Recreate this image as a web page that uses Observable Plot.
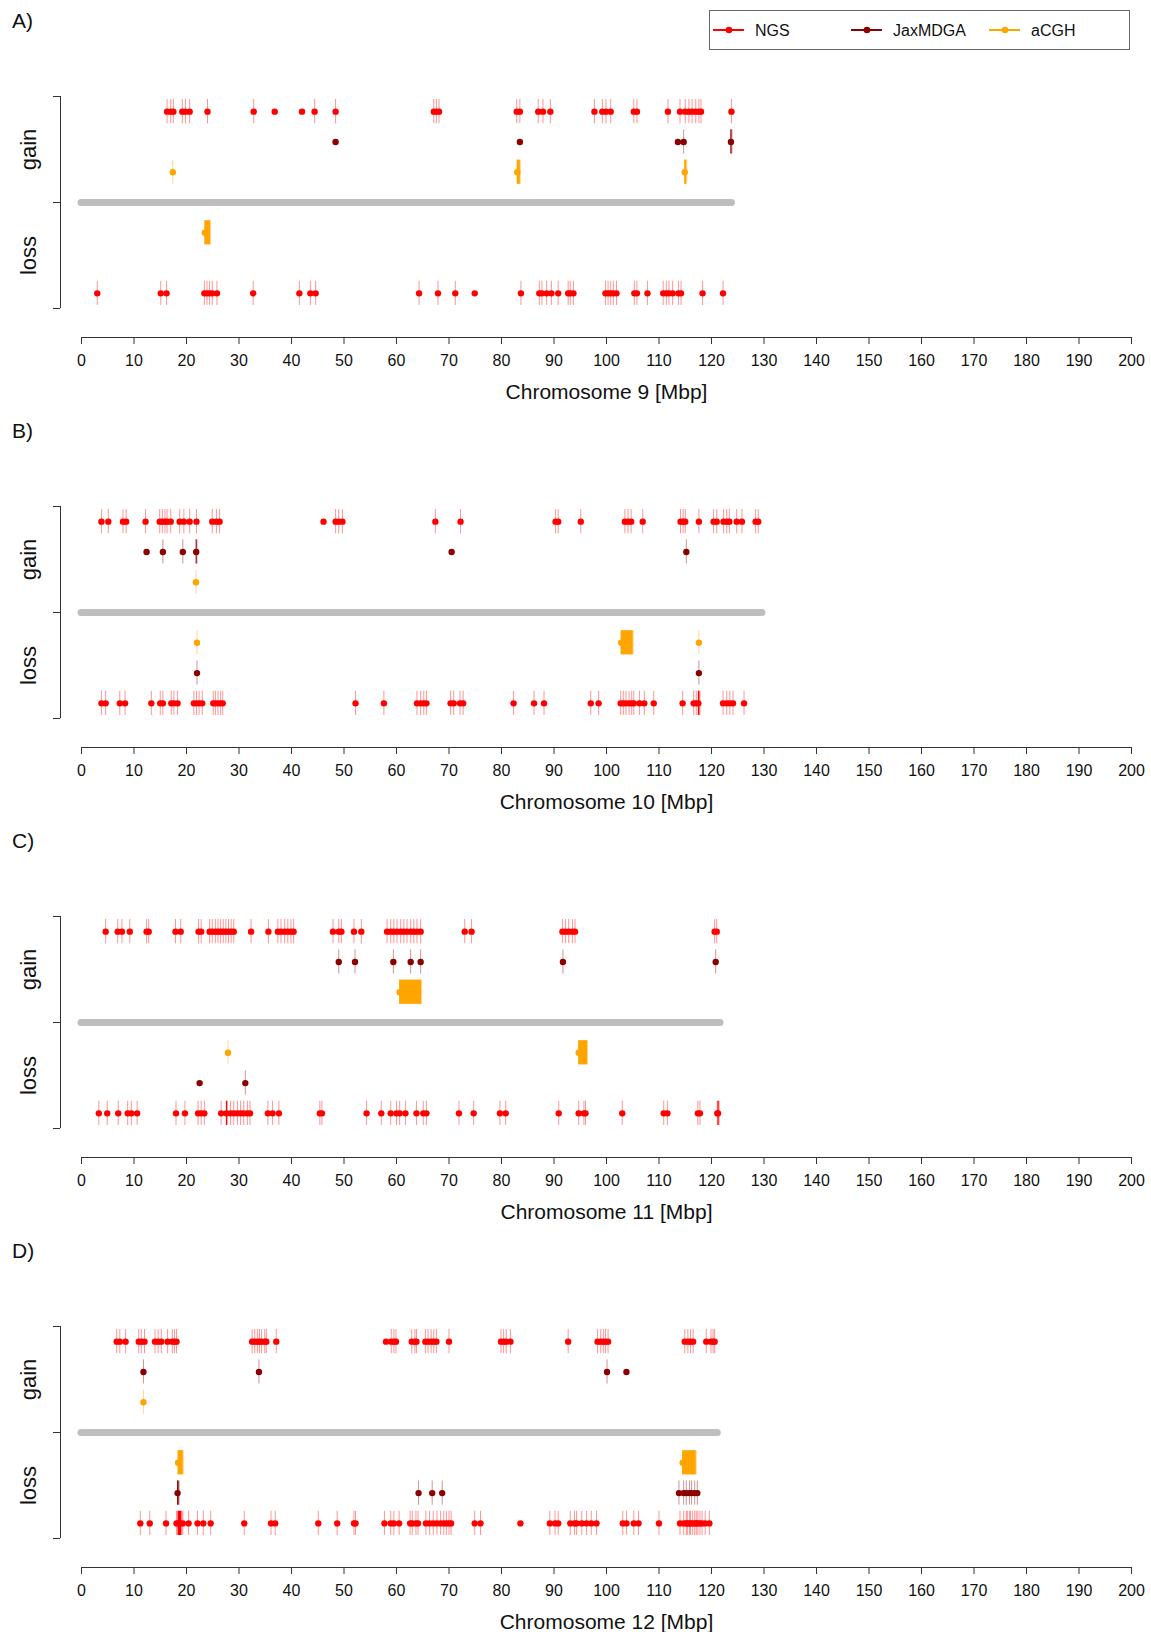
<!DOCTYPE html>
<html>
<head>
<meta charset="utf-8">
<script src="https://cdn.jsdelivr.net/npm/d3@7"></script>
<script src="https://cdn.jsdelivr.net/npm/@observablehq/plot@0.6"></script>
<style>
  body { margin: 0; background: #fff; font-family: "Liberation Sans", Arial, sans-serif; }
  #wrap { position: relative; width: 1151px; }
  .panel { position: relative; width: 1151px; }
  .panel svg { display: block; }
  .plabel { position: absolute; left: 12px; top: 10px; font-size: 21px; line-height: 21px; color: #111; }
  #legend { position: absolute; left: 709px; top: 10px; width: 421px; height: 40px; border: 1px solid #666; box-sizing: border-box; background: #fff; }
  .litem { position: absolute; top: 0; height: 38px; }
  .litem svg { position: absolute; top: 14px; left: 0; }
  .litem span { position: absolute; left: 42px; top: 11px; font-size: 16px; line-height: 18px; color: #111; white-space: nowrap; }
</style>
</head>
<body>
<div id="wrap"></div>
<script>
// ---------- general ----------
const seriesNames = ["NGS", "JaxMDGA", "aCGH"];
const seriesColors = ["#FF0000", "#8B0000", "#FFA500"];
const panelLabels = ["A)", "B)", "C)", "D)"];
const axisTitles = ["Chromosome 9 [Mbp]", "Chromosome 10 [Mbp]", "Chromosome 11 [Mbp]", "Chromosome 12 [Mbp]"];
const chromLengths = [123.9, 129.7, 121.7, 121.2];
const xTicks = [0, 10, 20, 30, 40, 50, 60, 70, 80, 90, 100, 110, 120, 130, 140, 150, 160, 170, 180, 190, 200];
const sideLabels = ["gain", "loss"];

// Entries: number = call start (dot + call line); [start, end] = call region; [start] = dot only
// ---------- Chromosome 9 ----------
const chr9NgsGain = [16.3, 17.0, 17.5, 19.2, 19.8, 20.6, 24.0, 32.8, [36.8], [42.0], 44.4, 48.4,
  67.1, 67.6, 68.1, 82.9, 83.5, 87.0, 87.9, 89.3, 97.7, 99.2, 99.9, 100.8, 105.2, 105.8,
  111.7, 114.0, 115.0, 115.7, 116.3, 117.0, 117.6, 118.0, 123.8];
const chr9JaxGain = [[48.4], [83.5], [113.6], 114.7, [123.7, 123.9]];
const chr9AcghGain = [17.4, [83.0, 83.6], [114.9, 115.3]];
const chr9AcghLoss = [[23.5, 24.6]];
const chr9JaxLoss = [];
const chr9NgsLoss = [3.0, 15.1, 16.2, 23.4, 23.9, 24.4, 24.9, 25.8, 32.7, 41.5, 43.6, 44.6,
  64.3, 67.9, 71.2, [74.9], 83.7, 87.2, 87.7, 88.6, 89.5, 90.8, 92.7, 93.1, 93.7,
  99.8, 100.3, 100.8, 101.3, 101.9, 105.3, 105.8, 107.8, 110.8, 111.4, 111.9, 112.6,
  113.7, 114.2, 118.3, 122.2];

// ---------- Chromosome 10 ----------
const chr10NgsGain = [3.8, 5.1, 7.9, 8.5, 12.2, 14.9, 15.4, 15.9, 16.3, 17.0, 18.7, 19.5, 20.6, 21.9,
  24.9, 25.7, 26.3, [46.1], 48.4, 49.0, 49.7, 67.4, 72.2, 90.3, 90.8, 95.1, 103.5, 104.1, 104.7,
  106.9, 114.1, 114.6, 115.0, 117.6, 120.4, 121.0, 122.3, 122.9, 123.4, 124.8, 125.8, 128.4, 128.9];
const chr10JaxGain = [[12.4], 15.5, 19.3, [21.85, 22.0], [70.5], 115.2];
const chr10AcghGain = [21.8];
const chr10AcghLoss = [22.0, [102.8, 105.1], 117.6];
const chr10JaxLoss = [22.0, 117.6];
const chr10NgsLoss = [3.8, 4.6, 7.3, 8.3, 13.3, 15.0, 15.5, 17.1, 17.6, 18.3, 21.4, 21.9, 22.4, 23.0,
  25.1, 25.5, 26.0, 26.5, 26.9, 52.2, 57.6, 63.9, 64.6, 65.2, 65.7, 70.3, 70.9, 72.1, 72.7,
  82.3, 86.2, 88.1, 97.0, 98.5, 102.7, 103.2, 103.7, 104.3, 104.8, 105.2, 106.3, 107.2, 109.0,
  114.5, 116.6, 117.1, [117.5, 117.8], 122.2, 122.9, 123.5, 124.1, 126.2];

// ---------- Chromosome 11 ----------
const chr11NgsGain = [4.6, 6.9, 7.7, 9.2, 12.4, 12.8, 17.9, 18.9, 22.3, 22.8, 24.4, 24.9, 25.5, 26.0,
  26.5, 27.0, 27.5, 28.0, 28.5, 29.0, 32.3, 35.6, 37.4, 38.0, 38.7, 39.3, 39.9, 40.4, 47.9, 49.0,
  49.5, 51.9, 53.3, 58.2, 58.9, 59.5, 60.1, 60.8, 61.4, 62.0, 62.7, 63.3, 63.9, 64.6, 73.0, 74.3,
  91.6, 92.2, 92.8, 93.5, 94.0, 120.6, 121.0];
const chr11JaxGain = [49.0, 52.1, 59.4, 62.7, 64.6, 91.7, 120.8];
const chr11AcghGain = [[60.6, 64.8]];
const chr11AcghLoss = [27.9, [94.7, 96.4]];
const chr11JaxLoss = [[22.5], 31.2];
const chr11NgsLoss = [3.3, 4.9, 7.0, 8.8, 9.5, 10.6, 18.0, 19.7, 22.2, 22.8, 23.4, 26.6, [27.6, 27.8],
  28.4, 29.0, 29.7, 30.3, 30.9, 31.6, 32.1, 35.5, 36.4, 37.6, 45.4, 45.8, 54.3, 57.1, 58.9, 60.0,
  60.6, 61.7, 63.8, 65.1, 65.7, 71.9, 74.7, 79.7, 80.8, 90.9, 94.7, 95.7, 96.0, 103.0, 110.9,
  111.6, 117.4, 117.8, 121.1, [121.25, 121.45]];

// ---------- Chromosome 12 ----------
const chr12NgsGain = [6.7, 7.3, 8.4, 10.9, 11.4, 12.0, 14.0, 14.6, 15.2, 16.4, 17.3, 17.7, 18.1,
  32.5, 33.0, 33.5, 33.9, 34.3, 34.9, 35.2, 37.1, [58.0], 59.0, 59.5, 59.9, 62.9, 63.5, 63.8,
  65.5, 66.0, 66.6, 67.1, 67.6, 70.0, 79.9, 80.4, 80.9, 81.7, 92.7, 98.3, 98.9, 99.4, 99.8, 100.3,
  114.9, 115.5, 116.0, 116.5, 119.0, 119.9, 120.3, 120.6];
const chr12JaxGain = [11.8, 33.8, 100.1, [103.8]];
const chr12AcghGain = [11.8];
const chr12AcghLoss = [[18.4, 19.4], [114.5, 117.1]];
const chr12JaxLoss = [[18.3, 18.6], 64.2, 66.8, 68.7, 113.8, 114.7, 115.2, 115.8, 116.2, 116.8, 117.3];
const chr12NgsLoss = [11.2, 13.0, 16.1, 18.1, [18.4, 19.1], 18.7, 19.3, 20.4, 22.1, 23.2, 24.6, 31.0,
  36.1, 36.9, 45.1, 48.7, 51.9, 52.2, 57.7, 58.9, 59.5, 60.5, 62.6, 63.0, 63.7, 64.1, 65.6, 66.3,
  67.0, 67.7, 68.4, 69.0, 69.5, 70.0, 70.4, 74.9, 76.0, [83.6], 89.2, 90.2, 90.8, 93.1, 93.9, 94.3,
  95.3, 96.2, 97.1, 98.1, 103.1, 103.8, 105.2, 106.1, 110.0, 114.0, 114.7, 115.2, 115.4, 115.8,
  116.0, 116.4, 116.8, 117.1, 117.4, 117.8, 118.2, 118.8, 119.6];

// ---------- build ----------
const rowOf = {
  gain: { NGS: 3, JaxMDGA: 2, aCGH: 1 },
  loss: { aCGH: -1, JaxMDGA: -2, NGS: -3 }
};
function events(list, series, side) {
  return list.map(v => {
    let start, end, line = true;
    if (Array.isArray(v)) {
      if (v.length === 1) { start = v[0]; end = v[0]; line = false; }
      else { start = v[0]; end = v[1]; }
    } else { start = v; end = v; }
    return { start, end, line, series, row: rowOf[side][series] };
  });
}
const panelData = [
  [chr9NgsGain, chr9JaxGain, chr9AcghGain, chr9AcghLoss, chr9JaxLoss, chr9NgsLoss],
  [chr10NgsGain, chr10JaxGain, chr10AcghGain, chr10AcghLoss, chr10JaxLoss, chr10NgsLoss],
  [chr11NgsGain, chr11JaxGain, chr11AcghGain, chr11AcghLoss, chr11JaxLoss, chr11NgsLoss],
  [chr12NgsGain, chr12JaxGain, chr12AcghGain, chr12AcghLoss, chr12JaxLoss, chr12NgsLoss]
].map(([ng, jg, ag, al, jl, nl]) => [
  ...events(ng, "NGS", "gain"), ...events(jg, "JaxMDGA", "gain"), ...events(ag, "aCGH", "gain"),
  ...events(al, "aCGH", "loss"), ...events(jl, "JaxMDGA", "loss"), ...events(nl, "NGS", "loss")
]);

const heights = [410, 410, 410, 402];
const wrap = document.getElementById("wrap");
const font = "'Liberation Sans', Arial, Helvetica, sans-serif";
const axisColor = "#333";
const half = 0.4;
const lineOpacity = 0.42;

panelData.forEach((data, i) => {
  const H = heights[i];
  const chart = Plot.plot({
    width: 1151,
    height: H,
    marginLeft: 81,
    marginRight: 20,
    marginTop: 96,
    marginBottom: H - 337,
    x: { domain: [0, 200] },
    y: { domain: [-4.457, 3.5] },
    color: { domain: seriesNames, range: seriesColors },
    style: { fontFamily: font, fontSize: "16px", background: "white", color: "#111", overflow: "visible" },
    marks: [
      Plot.frame({ anchor: "bottom", stroke: axisColor }),
      Plot.axisX({ ticks: xTicks, tickSize: 7, tickPadding: 10, label: null, fontSize: 16, stroke: axisColor, fill: "#111" }),
      Plot.text([axisTitles[i]], { frameAnchor: "bottom", dy: 61, fontSize: 21, fill: "#111" }),
      Plot.ruleX([0], { y1: -3.5, y2: 3.5, dx: -21, stroke: axisColor }),
      Plot.axisY({ ticks: [-3.5, 0, 3.5], tickSize: 7, tickFormat: () => "", dx: -21, stroke: axisColor, label: null }),
      Plot.text(sideLabels, { x: 0, y: (d, j) => (j === 0 ? 1.75 : -1.75), dx: -53, rotate: -90, fontSize: 22, fill: "#111" }),
      Plot.ruleY([0], { x1: 0, x2: chromLengths[i], stroke: "#BEBEBE", strokeWidth: 7, strokeLinecap: "round" }),
      Plot.dot(data, { x: "start", y: "row", r: 3.2, fill: "series", stroke: null }),
      Plot.rect(data.filter(d => d.end > d.start), {
        x1: "start", x2: "end", y1: d => d.row - half, y2: d => d.row + half, fill: "series"
      }),
      Plot.ruleX(data.filter(d => d.line), {
        x: "start", y1: d => d.row - half, y2: d => d.row + half, stroke: "series", strokeOpacity: lineOpacity
      }),
      Plot.ruleX(data.filter(d => d.end > d.start), {
        x: "end", y1: d => d.row - half, y2: d => d.row + half, stroke: "series", strokeOpacity: lineOpacity
      })
    ]
  });
  const div = document.createElement("div");
  div.className = "panel";
  div.style.height = H + "px";
  div.appendChild(chart);
  const lab = document.createElement("div");
  lab.className = "plabel";
  lab.textContent = panelLabels[i];
  div.appendChild(lab);
  if (i === 0) {
    const leg = document.createElement("div");
    leg.id = "legend";
    const lefts = [3, 141, 279];
    seriesNames.forEach((name, k) => {
      const it = document.createElement("div");
      it.className = "litem";
      it.style.left = lefts[k] + "px";
      it.innerHTML = `<svg width="34" height="10"><line x1="0" y1="5" x2="31" y2="5" stroke="${seriesColors[k]}" stroke-width="2"/><circle cx="16" cy="5" r="3.3" fill="${seriesColors[k]}"/></svg><span>${name}</span>`;
      leg.appendChild(it);
    });
    div.appendChild(leg);
  }
  wrap.appendChild(div);
});
</script>
</body>
</html>
